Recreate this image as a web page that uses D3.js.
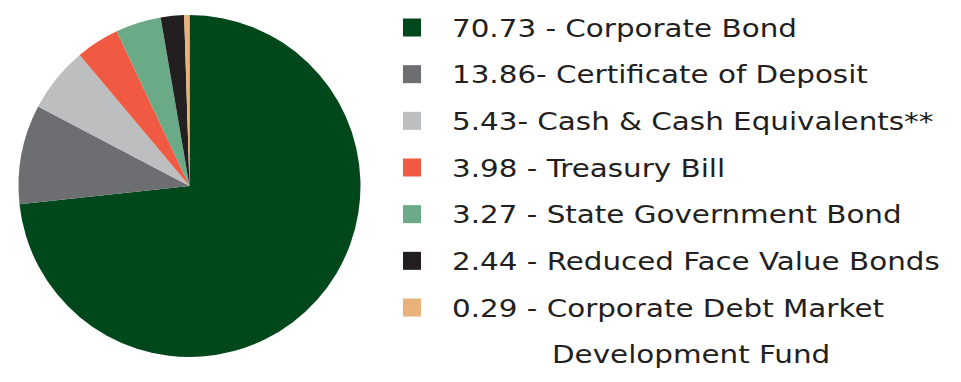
<!DOCTYPE html>
<html><head><meta charset="utf-8">
<script src="https://cdn.jsdelivr.net/npm/d3@7"></script>
<style>html,body{margin:0;padding:0;background:#fff;}svg{display:block;}</style>
</head><body>
<svg id="chart" width="961" height="382"></svg>
<script>
// Categories as printed in the legend
const categories = ["Corporate Bond","Certificate of Deposit","Cash & Cash Equivalents**","Treasury Bill","State Government Bond","Reduced Face Value Bonds","Corporate Debt Market Development Fund"];
// Legend label values (as printed)
const legendValues = ["70.73","13.86","5.43","3.98","3.27","2.44","0.29"];
// Legend text lines (as printed)
const legendLines = [
  ["70.73 - Corporate Bond"],
  ["13.86- Certificate of Deposit"],
  ["5.43- Cash & Cash Equivalents**"],
  ["3.98 - Treasury Bill"],
  ["3.27 - State Government Bond"],
  ["2.44 - Reduced Face Value Bonds"],
  ["0.29 - Corporate Debt Market", "Development Fund"]
];
// Slice shares as drawn in the picture (%)
const sliceShares = [73.3, 9.4, 6.2, 4.1, 4.3, 2.2, 0.5];
const colors = ["#00471b","#6d6e71","#bcbec0","#f15a42","#6aaa87","#231f20","#e9b27a"];

const svg = d3.select("#chart");
const cx = 189.5, cy = 186, r = 171;

const pie = d3.pie().sort(null).value(d => d.v);
const arcs = pie(sliceShares.map((v,i)=>({v,i})));
const arc = d3.arc().innerRadius(0).outerRadius(r);

svg.append("g").attr("transform",`translate(${cx},${cy})`)
  .selectAll("path").data(arcs).join("path")
  .attr("d", arc).attr("fill", d => colors[d.data.i]);

const legend = svg.append("g");
const rowY = d3.scalePoint().domain(d3.range(categories.length)).range([36.5, 316.5]);
const rows = legend.selectAll("g").data(categories).join("g")
  .attr("transform",(d,i)=>`translate(0,${rowY(i)})`);
rows.append("rect").attr("x",403).attr("y",-18).attr("width",18).attr("height",18)
  .attr("fill",(d,i)=>colors[i]);
const texts = [];
rows.each(function(d,i){
  const g = d3.select(this);
  legendLines[i].forEach((t,k)=>{
    const tx = g.append("text").attr("x",0).attr("y",0)
      .attr("font-family","'DejaVu Sans', sans-serif").attr("font-size",25)
      .attr("fill","#231f20").text(t);
    texts.push({tx, x: k===0?452:552, y: k*46});
  });
});
// horizontal stretch so the longest line spans like the reference (~488px)
const w = texts[5].tx.node().getComputedTextLength();
const sx = 488 / w;
texts.forEach(o => o.tx.attr("transform", `translate(${o.x},${o.y}) scale(${sx},1)`));
</script>
</body></html>
